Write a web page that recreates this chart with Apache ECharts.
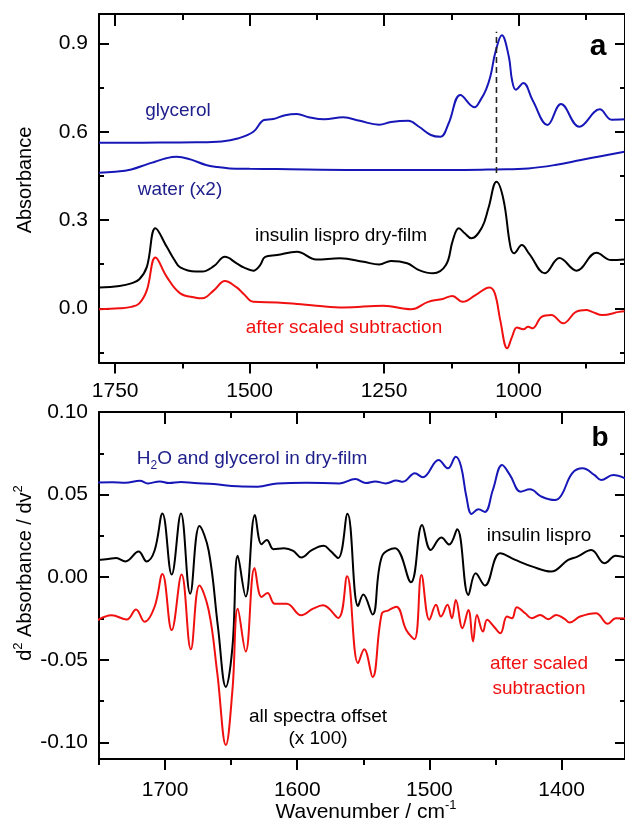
<!DOCTYPE html>
<html><head><meta charset="utf-8">
<script src="https://cdn.jsdelivr.net/npm/echarts@6/dist/echarts.min.js"></script>
<style>html,body{margin:0;padding:0;background:#fff}#c{width:625px;height:828px}</style>
</head><body><div id="c"></div>
<script>
// ---------- Panel a (absorbance) ----------
const aMajorTicks = [1750, 1500, 1250, 1000];
const aMinorTicks = [1625, 1375, 1125, 875];
const aYMajor = [0, 0.3, 0.6, 0.9];
const aYMinor = [-0.15, 0.15, 0.45, 0.75];

const glycerolWn  = [1780,1700,1600,1552,1522,1493,1473,1456,1434,1412,1390,1361,1326,1295,1259,1237,1205,1185,1163,1145,1130,1108,1082,1070,1060,1052,1043,1031,1018,1012,1005,991,974,946,921,887,849,827,803];
const glycerolAbs = [0.5625,0.563,0.564,0.567,0.577,0.600,0.640,0.643,0.656,0.660,0.649,0.642,0.649,0.637,0.624,0.633,0.637,0.617,0.589,0.583,0.628,0.725,0.683,0.71,0.745,0.79,0.870,0.928,0.855,0.775,0.743,0.766,0.708,0.623,0.694,0.617,0.676,0.641,0.642];

const waterWn  = [1780,1750,1720,1690,1676,1655,1636,1610,1581,1560,1537,1500,1449,1300,1229,1100,1043,982,932,884,847,803];
const waterAbs = [0.461,0.464,0.472,0.490,0.498,0.510,0.515,0.506,0.487,0.480,0.4755,0.474,0.473,0.470,0.470,0.470,0.472,0.4755,0.487,0.504,0.517,0.532];

const insulinWn  = [1780,1742,1720,1705,1691,1675,1654,1640,1629,1600,1588,1566,1546,1524,1511,1493,1481,1471,1449,1412,1376,1332,1288,1259,1237,1207,1185,1159,1135,1122,1111,1100,1088,1068,1056,1041,1028,1015,1008,994,980,951,924,892,855,828,803];
const insulinAbs = [0.071,0.076,0.085,0.099,0.141,0.272,0.209,0.165,0.139,0.125,0.125,0.144,0.175,0.153,0.139,0.128,0.145,0.175,0.181,0.192,0.166,0.170,0.158,0.149,0.161,0.153,0.130,0.119,0.147,0.232,0.272,0.255,0.238,0.275,0.340,0.430,0.370,0.209,0.187,0.215,0.185,0.119,0.171,0.128,0.189,0.164,0.166];

const subtractedWn  = [1780,1742,1720,1705,1691,1675,1654,1629,1600,1588,1566,1546,1524,1511,1493,1449,1412,1376,1325,1251,1200,1168,1141,1123,1104,1080,1054,1044,1034,1021,1012,1003,991,982,974,957,939,917,893,874,862,844,813,803];
const subtractedAbs = [-0.003,0.000,0.005,0.017,0.062,0.173,0.107,0.051,0.036,0.034,0.062,0.093,0.071,0.049,0.0225,0.020,0.015,0.009,0.003,0.009,-0.003,0.022,0.032,0.042,0.022,0.045,0.071,0.051,-0.040,-0.136,-0.097,-0.065,-0.071,-0.0625,-0.068,-0.029,-0.023,-0.051,-0.012,-0.006,-0.013,-0.023,-0.012,-0.010];

const markerWn = 1041;
const markerAbs = [0.46, 0.94];

// ---------- Panel b (second derivative) ----------
const bMajorTicks = [1700, 1600, 1500, 1400];
const bMinorTicks = [1750, 1650, 1550, 1450];
const bYMajor = [-0.10, -0.05, 0.00, 0.05, 0.10];
const bYMinor = [-0.075, -0.025, 0.025, 0.075];

const h2oGlyWn = [1751,1740,1730,1719,1713,1704,1697,1688,1678,1663,1645,1630,1615,1593,1568,1556,1548,1541,1533,1525,1520,1511,1505,1493,1486,1480,1476,1472,1468,1463,1458,1452,1445,1439,1431,1424,1415,1405,1400,1392,1384,1375,1370,1361,1352];
const h2oGlyD2 = [0.0574,0.0575,0.0572,0.0584,0.0568,0.0580,0.0570,0.0576,0.0570,0.0564,0.0550,0.0548,0.0568,0.0572,0.0568,0.0594,0.0570,0.0580,0.0568,0.0585,0.0578,0.0629,0.0605,0.0709,0.0659,0.0729,0.0669,0.0487,0.0383,0.0411,0.0395,0.0528,0.0679,0.0618,0.0518,0.0532,0.0487,0.0467,0.0498,0.0629,0.0659,0.0618,0.0588,0.0618,0.0598];

const lisproWn = [1751,1743,1737,1730,1720,1714,1708,1702,1695,1688,1681,1674,1667,1660,1654,1649,1645,1639,1632,1627,1623,1618,1610,1603,1597,1589,1580,1575,1569,1562,1554,1550,1543,1536,1526,1514,1505.5,1499,1491,1485,1479,1470.5,1465,1458,1446.5,1435,1422,1408,1395,1388,1377.5,1367.5,1359,1352];
const lisproD2 = [0.0104,0.011,0.0116,0.0096,0.0156,0.0096,0.016,0.0386,0.0016,0.0386,-0.010,0.031,0.016,-0.030,-0.0664,-0.042,0.013,-0.0116,0.0376,0.020,0.0226,0.017,0.0176,0.016,0.012,0.0164,0.019,0.016,0.0116,0.0384,-0.0174,-0.0104,-0.0226,0.0124,0.0175,-0.003,0.0316,0.0165,0.024,0.0198,0.029,-0.0107,0.0024,-0.005,0.0145,0.0105,0.0064,0.0034,0.0105,0.0125,0.0165,0.0085,0.013,0.012];

const subD2Wn = [1751,1740.5,1729,1722,1715.5,1708,1702,1695,1687.5,1680.5,1674,1667,1660.5,1654,1649,1645,1639,1632.3,1627,1622.5,1617,1608,1597,1588,1580.5,1569,1562.3,1554,1549.3,1543,1536,1531,1525,1517.5,1511.3,1506,1500,1495,1491.3,1486.3,1483,1480,1475,1470.5,1467,1464,1459.5,1456.3,1451.3,1446.3,1441.3,1437.5,1433.8,1427.5,1422.5,1416.3,1410,1404,1397.5,1394,1386,1374,1365,1359,1352];
const subD2 = [-0.026,-0.023,-0.0256,-0.0196,-0.027,-0.018,0.002,-0.032,0.0016,-0.0436,-0.005,-0.020,-0.058,-0.1016,-0.068,-0.019,-0.045,0.0056,-0.012,-0.0096,-0.016,-0.016,-0.023,-0.019,-0.017,-0.0246,0.0006,-0.052,-0.0436,-0.0604,-0.022,-0.020,-0.0178,-0.0319,-0.0375,0.0014,-0.0258,-0.0167,-0.0238,-0.0167,-0.0248,-0.0137,-0.0308,-0.0198,-0.0389,-0.0228,-0.0329,-0.0258,-0.0298,-0.0339,-0.0238,-0.0248,-0.0181,-0.0218,-0.0248,-0.0228,-0.0254,-0.0228,-0.0254,-0.0274,-0.0238,-0.0218,-0.0282,-0.0248,-0.025];

// ---------- build ----------
const FONT = '"Liberation Sans", Arial, Helvetica, sans-serif';
const BLUE = '#1717b8', NAVY = '#20208c', RED = '#f01010', BLACK = '#000';
const zip = (xs, ys) => xs.map((x, i) => [x, ys[i]]);

function xAxes(g, min, max, major, minor, fmt, margin) {
  const base = {type:'value', gridIndex:g, min, max, inverse:true, splitLine:{show:false}, axisPointer:{show:false}};
  return [
    Object.assign({}, base, {position:'bottom',
      axisLine:{show:true, onZero:false, lineStyle:{color:BLACK, width:2}},
      axisTick:{show:true, inside:false, length:11, customValues:major, lineStyle:{color:BLACK, width:2}},
      axisLabel:{show:true, customValues:major, margin, fontSize:21, color:BLACK, fontFamily:FONT, formatter:fmt}}),
    Object.assign({}, base, {position:'bottom',
      axisLine:{show:false, onZero:false},
      axisTick:{show:true, inside:false, length:6, customValues:minor, lineStyle:{color:BLACK, width:2}},
      axisLabel:{show:false}}),
    Object.assign({}, base, {position:'top',
      axisLine:{show:true, onZero:false, lineStyle:{color:BLACK, width:2}},
      axisTick:{show:true, inside:true, length:12, customValues:major, lineStyle:{color:BLACK, width:2}},
      axisLabel:{show:false}}),
    Object.assign({}, base, {position:'top',
      axisLine:{show:false, onZero:false},
      axisTick:{show:true, inside:true, length:6, customValues:minor, lineStyle:{color:BLACK, width:2}},
      axisLabel:{show:false}})
  ];
}
function yAxes(g, min, max, major, minor, fmt) {
  const base = {type:'value', gridIndex:g, min, max, splitLine:{show:false}, axisPointer:{show:false}};
  return [
    Object.assign({}, base, {position:'left',
      axisLine:{show:true, onZero:false, lineStyle:{color:BLACK, width:2}},
      axisTick:{show:true, inside:true, length:10, customValues:major, lineStyle:{color:BLACK, width:2}},
      axisLabel:{show:true, customValues:major, margin:11, fontSize:21, color:BLACK, fontFamily:FONT, formatter:fmt}}),
    Object.assign({}, base, {position:'left',
      axisLine:{show:false, onZero:false},
      axisTick:{show:true, inside:true, length:5, customValues:minor, lineStyle:{color:BLACK, width:2}},
      axisLabel:{show:false}}),
    Object.assign({}, base, {position:'right',
      axisLine:{show:true, onZero:false, lineStyle:{color:BLACK, width:2}},
      axisTick:{show:true, inside:true, length:10, customValues:major, lineStyle:{color:BLACK, width:2}},
      axisLabel:{show:false}}),
    Object.assign({}, base, {position:'right',
      axisLine:{show:false, onZero:false},
      axisTick:{show:true, inside:true, length:5, customValues:minor, lineStyle:{color:BLACK, width:2}},
      axisLabel:{show:false}})
  ];
}

function line(name, data, color, xi, yi) {
  return {type:'line', name, data, xAxisIndex:xi, yAxisIndex:yi, showSymbol:false, symbol:'none',
    smooth:0.4, lineStyle:{color, width:2}, clip:true, silent:true};
}

function txt(text, x, y, fill, size) {
  return {type:'text', x, y, silent:true, style:{text, fill, fontSize:size, fontFamily:FONT,
    align:'center', verticalAlign:'middle'}};
}
function boldTxt(text, x, y, size) {
  return {type:'text', x, y, silent:true, style:{text, fill:BLACK, fontSize:size, fontWeight:'bold', fontFamily:FONT,
    align:'center', verticalAlign:'middle'}};
}

const fmt1 = v => v.toFixed(1);
const fmt2 = v => v.toFixed(2);
const fmt0 = v => String(Math.round(v));

const option = {
  animation:false,
  backgroundColor:'#fff',
  grid:[
    {left:99, right:-6, top:14, height:348.5, containLabel:false},
    {left:99, right:-6, top:412, height:347, containLabel:false}
  ],
  xAxis:[].concat(
    xAxes(0, 802, 1780, aMajorTicks, aMinorTicks, fmt0, 18),
    xAxes(1, 1352, 1750, bMajorTicks, bMinorTicks, fmt0, 21)
  ),
  yAxis:[].concat(
    yAxes(0, -0.184, 1.0, aYMajor, aYMinor, fmt1),
    yAxes(1, -0.11, 0.10, bYMajor, bYMinor, fmt2)
  ),
  series:[
    line('glycerol', zip(glycerolWn, glycerolAbs), BLUE, 0, 0),
    line('water (x2)', zip(waterWn, waterAbs), BLUE, 0, 0),
    line('insulin lispro dry-film', zip(insulinWn, insulinAbs), BLACK, 0, 0),
    line('after scaled subtraction', zip(subtractedWn, subtractedAbs), RED, 0, 0),
    {type:'line', name:'marker', data:markerAbs.map(v => [markerWn, v]), xAxisIndex:0, yAxisIndex:0,
      symbol:'none', silent:true, lineStyle:{color:'#222', width:1.6, type:[6,4]}},
    line('H2O and glycerol in dry-film', zip(h2oGlyWn, h2oGlyD2), BLUE, 4, 4),
    line('insulin lispro', zip(lisproWn, lisproD2), BLACK, 4, 4),
    line('after scaled subtraction (d2)', zip(subD2Wn, subD2), RED, 4, 4)
  ],
  graphic:[
    boldTxt('a', 598, 47, 30),
    txt('glycerol', 178, 111, NAVY, 19),
    txt('water (x2)', 180, 190, NAVY, 19),
    txt('insulin lispro dry-film', 341, 236, BLACK, 19),
    txt('after scaled subtraction', 344, 328, RED, 19),
    boldTxt('b', 600, 438, 28),
    {type:'text', x:252, y:459, silent:true, style:{text:'H{sub|2}O and glycerol in dry-film', fill:NAVY, fontSize:19, fontFamily:FONT,
      align:'center', verticalAlign:'middle',
      rich:{sub:{fontSize:12, fill:NAVY, fontFamily:FONT, verticalAlign:'bottom', lineHeight:26}}}},
    txt('insulin lispro', 539, 536, BLACK, 19),
    txt('after scaled', 539, 664, RED, 19),
    txt('subtraction', 539, 689, RED, 19),
    txt('all spectra offset', 318, 717, BLACK, 19),
    txt('(x 100)', 318, 739, BLACK, 19),
    {type:'text', x:25, y:180, rotation:Math.PI/2, silent:true, style:{text:'Absorbance', fill:BLACK, fontSize:20, fontFamily:FONT, align:'center', verticalAlign:'middle'}},
    {type:'text', x:25, y:573, rotation:Math.PI/2, silent:true, style:{text:'d{sup|2} Absorbance / dv{sup|2}', fill:BLACK, fontSize:20, fontFamily:FONT,
      align:'center', verticalAlign:'middle',
      rich:{sup:{fontSize:13, fill:BLACK, fontFamily:FONT, verticalAlign:'top', lineHeight:26}}}},
    {type:'text', x:366, y:812, silent:true, style:{text:'Wavenumber / cm{sup|-1}', fill:BLACK, fontSize:21, fontFamily:FONT,
      align:'center', verticalAlign:'middle',
      rich:{sup:{fontSize:13, fill:BLACK, fontFamily:FONT, verticalAlign:'top', lineHeight:26}}}}
  ]
};
const chart = echarts.init(document.getElementById('c'), null, {renderer:'canvas'});
chart.setOption(option);
</script></body></html>
